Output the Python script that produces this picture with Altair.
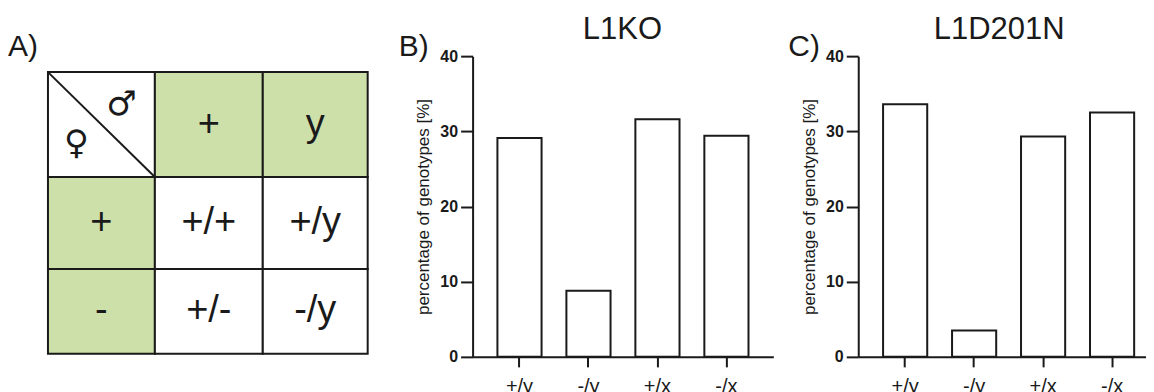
import altair as alt
import pandas as pd

# ---------------- data ----------------
genotypes = ["+/y", "-/y", "+/x", "-/x"]
l1ko_values = [29.1, 8.8, 31.6, 29.4]
l1d201n_values = [33.6, 3.5, 29.3, 32.5]

panel_letters = ["A)", "B)", "C)"]
panel_titles = ["L1KO", "L1D201N"]

# Punnett square (column index, row index, text, kind)
cell_cols = [0, 1, 2, 0, 1, 2, 0, 1, 2]
cell_rows = [0, 0, 0, 1, 1, 1, 2, 2, 2]
cell_text = ["", "+", "y", "+", "+/+", "+/y", "-", "+/-", "-/y"]
cell_kind = ["corner", "header", "header", "header", "body", "body", "header", "body", "body"]
sex_symbols = ["\u2642", "\u2640"]  # male, female

FONT = "Liberation Sans"
INK = "#1a1a1a"
GREEN = "#cde0aa"

# ---------------- panel A: Punnett square ----------------
cells = pd.DataFrame({"c": cell_cols, "r": cell_rows, "t": cell_text, "kind": cell_kind})

xs = alt.Scale(domain=[0, 1, 2, 3], range=[0, 107, 215, 320], nice=False, zero=False)
ys = alt.Scale(domain=[0, 1, 2, 3], range=[16, 121, 213, 298], nice=False, zero=False)

base = alt.Chart(cells).transform_calculate(
    c2="datum.c + 1", r2="datum.r + 1", cx="datum.c + 0.5", cy="datum.r + 0.5"
)

rects = base.mark_rect(stroke=INK, strokeWidth=2).encode(
    x=alt.X("c:Q", scale=xs, axis=None),
    x2="c2:Q",
    y=alt.Y("r:Q", scale=ys, axis=None),
    y2="r2:Q",
    fill=alt.Fill("kind:N", scale=alt.Scale(domain=["corner", "header", "body"],
                                             range=["white", GREEN, "white"]), legend=None),
)

diag = base.transform_filter("datum.kind == 'corner'").mark_rule(color=INK, strokeWidth=2).encode(
    x="c:Q", x2="c2:Q", y="r:Q", y2="r2:Q"
)

labels = base.mark_text(fontSize=38, font=FONT, color=INK, baseline="middle", align="center").encode(
    x="cx:Q", y="cy:Q", text="t:N"
)

male = base.transform_filter("datum.kind == 'corner'").transform_calculate(
    sym="'" + sex_symbols[0] + "'"
).mark_text(fontSize=34, font="DejaVu Sans", color=INK, dx=20, dy=-20).encode(
    x="cx:Q", y="cy:Q", text="sym:N"
)
female = base.transform_filter("datum.kind == 'corner'").transform_calculate(
    sym="'" + sex_symbols[1] + "'"
).mark_text(fontSize=34, font="DejaVu Sans", color=INK, dx=-25, dy=19).encode(
    x="cx:Q", y="cy:Q", text="sym:N"
)

letterA = alt.Chart(pd.DataFrame({"label": [panel_letters[0]]})).mark_text(
    align="left", baseline="alphabetic", fontSize=30, font=FONT, color=INK
).encode(x=alt.value(-40), y=alt.value(0), text="label:N")

panelA = alt.layer(rects, diag, labels, male, female, letterA).properties(width=320, height=301)


# ---------------- panels B, C: bar charts ----------------
def bar_panel(values, title, letter, letter_x, title_x, width, align):
    df = pd.DataFrame({"genotype": genotypes, "pct": values})
    bars = alt.Chart(df).mark_bar(fill="white", stroke=INK, strokeWidth=2).encode(
        x=alt.X(
            "genotype:N", sort=genotypes,
            scale=alt.Scale(paddingInner=0.36, paddingOuter=0.36 if align == 0.5 else
                            (width / 69.04 - 4 + 0.36) / 2, align=align),
            axis=alt.Axis(title=None, labelAngle=0, labelFontSize=20, labelFont=FONT,
                          labelColor=INK, tickSize=10, tickWidth=2, tickColor=INK,
                          domainColor=INK, domainWidth=2, labelPadding=10),
        ),
        y=alt.Y(
            "pct:Q", scale=alt.Scale(domain=[0, 40], nice=False),
            axis=alt.Axis(values=[0, 10, 20, 30, 40], title="percentage of genotypes [%]",
                          titleFontSize=17, titleFontWeight="normal", titleFont=FONT,
                          titleColor=INK, labelFontWeight="bold", labelFontSize=16,
                          labelFont=FONT, labelColor=INK, tickSize=12, tickWidth=2,
                          tickColor=INK, domainColor=INK, domainWidth=2, labelPadding=3,
                          titlePadding=7, grid=False),
        ),
    )
    letter_mark = alt.Chart(pd.DataFrame({"label": [letter]})).mark_text(
        align="left", baseline="alphabetic", fontSize=30, font=FONT, color=INK
    ).encode(x=alt.value(letter_x), y=alt.value(0), text="label:N")
    title_mark = alt.Chart(pd.DataFrame({"label": [title]})).mark_text(
        align="center", baseline="alphabetic", fontSize=31, font=FONT, color=INK
    ).encode(x=alt.value(title_x), y=alt.value(-17), text="label:N")
    return alt.layer(bars, letter_mark, title_mark).properties(width=width, height=301)


panelB = bar_panel(l1ko_values, panel_titles[0], panel_letters[1], -74, 150, 301, 0.5)
panelC = bar_panel(l1d201n_values, panel_titles[1], panel_letters[2], -70, 141, 288, 0.677)

chart = alt.hconcat(
    panelA,
    alt.hconcat(panelB, panelC, spacing=15),
    spacing=30,
).properties(
    padding={"left": 0, "top": 6, "right": 0, "bottom": 0}
).configure(background="white").configure_view(stroke=None)

chart.save("out.html", embed_options={"renderer": "svg", "actions": False})
